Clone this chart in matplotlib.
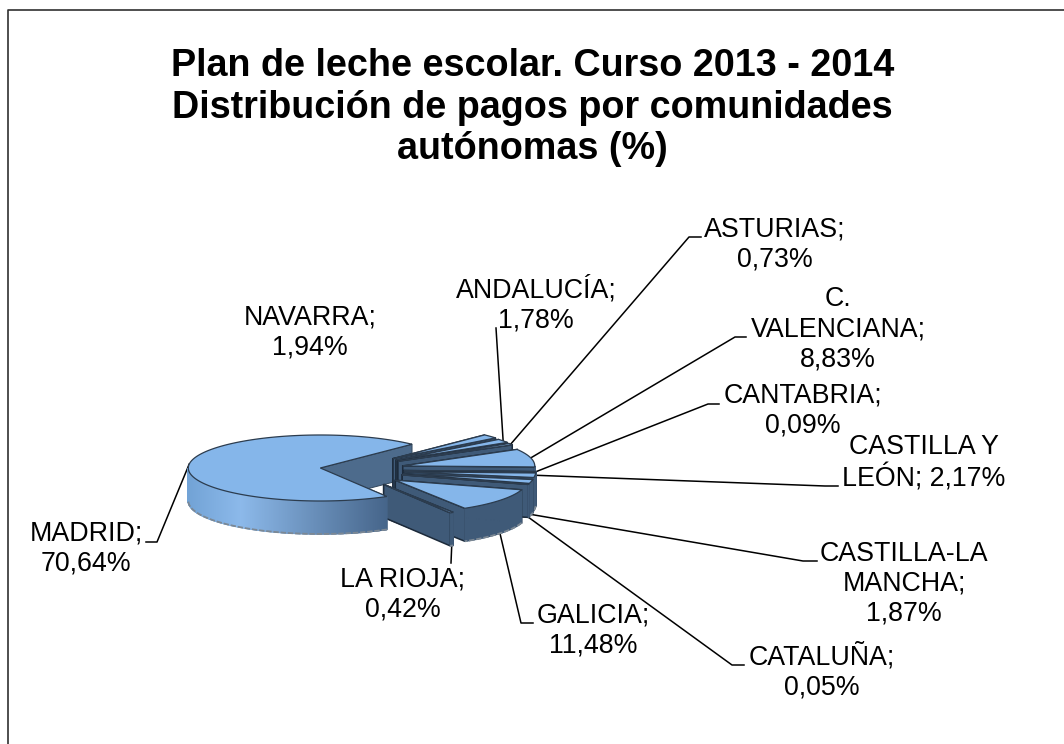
import numpy as np
import matplotlib
matplotlib.use('Agg')
import matplotlib.pyplot as plt
from matplotlib.colors import to_rgb
from matplotlib.patches import Polygon

plt.rcParams['font.family'] = ['Liberation Sans', 'DejaVu Sans']

# data, clockwise from the first slice
regions = ['ANDALUCÍA', 'ASTURIAS', 'C. VALENCIANA', 'CANTABRIA', 'CASTILLA Y LEÓN',
           'CASTILLA-LA MANCHA', 'CATALUÑA', 'GALICIA', 'LA RIOJA', 'MADRID', 'NAVARRA']
shares = [1.78, 0.73, 8.83, 0.09, 2.17, 1.87, 0.05, 11.48, 0.42, 70.64, 1.94]

# how the labels wrap in the chart
label_lines = [['ANDALUCÍA;', '{}'], ['ASTURIAS;', '{}'], ['C.', 'VALENCIANA;', '{}'],
               ['CANTABRIA;', '{}'], ['CASTILLA Y', 'LEÓN; {}'],
               ['CASTILLA-LA', 'MANCHA;', '{}'], ['CATALUÑA;', '{}'], ['GALICIA;', '{}'],
               ['LA RIOJA;', '{}'], ['MADRID;', '{}'], ['NAVARRA;', '{}']]

# layout in pixels
label_xy = [(536, 305), (775, 244), (838, 329), (803, 411), (924, 463),
            (904, 584), (822, 672), (593, 630), (403, 595), (86, 549), (310, 332)]
leader_tail = [[(496, 328)], [(689, 237), (701, 237)], [(735, 337), (746, 337)],
               [(708, 404), (719, 404)], [(825, 486), (838, 486)],
               [(803, 561), (817, 561)], [(732, 665), (744, 665)],
               [(521, 623), (533, 623)], [(451, 563)], [(157, 542), (146, 542)], None]

cx, cy = 362, 470
rx, ry = 132, 33
depth = 33
explode = 42
explode_yscale = 0.4
start_angle = 39.0

top_col = '#85b6ea'
wall_col = '#3f5a78'
edge_col = '#1c2a3a'


def project(t, r, ox, oy):
    return ox + r*rx*np.cos(t), oy - r*ry*np.sin(t)


def blend(a, b, f):
    a, b = np.array(to_rgb(a)), np.array(to_rgb(b))
    return tuple(a + (b-a)*f)


def madrid_shade(x):
    # light band on the left, going dark towards the cut
    if x < 240:
        return blend('#72a3d6', '#8cb9ea', (x-188)/52)
    return blend('#8cb9ea', '#46658a', min((x-240)/146, 1))


fig = plt.figure(figsize=(10.64, 7.44), dpi=100)
ax = fig.add_axes([0, 0, 1, 1])
ax.set_xlim(0, 1064)
ax.set_ylim(744, 0)
ax.axis('off')
# the frame is cut off by the image on the right and at the bottom
ax.plot([8, 8, 1064], [744, 10, 10], color='#303030', lw=1.2)

ax.text(532.5, 107.5, 'Plan de leche escolar. Curso 2013 - 2014\nDistribución de pagos por comunidades\nautónomas (%)',
        ha='center', va='center', fontsize=27.15, fontweight='bold', linespacing=1.18)

# slice angles follow the values
sweep = np.array(shares)/sum(shares)*2*np.pi
ends = np.radians(start_angle) - np.cumsum(sweep)
starts = ends + sweep
mids = (starts + ends)/2

# back slices first
order = np.argsort(-np.sin(mids))
for i in order:
    ox = cx + explode*np.cos(mids[i])
    oy = cy - explode*explode_yscale*np.sin(mids[i])
    is_big = regions[i] == 'MADRID'
    t = np.linspace(starts[i], ends[i], max(int(np.degrees(sweep[i]))*(4 if is_big else 1), 2)+1)
    px, py = project(t, 1, ox, oy)
    # madrid's rim sits in front of the right hand group, its cut face behind
    z_top = 4 if is_big else 3
    z_cut = 2.5 if is_big else 3

    # cut faces
    for e in (0, -1):
        face = [(ox, oy), (px[e], py[e]), (px[e], py[e]+depth), (ox, oy+depth)]
        ax.add_patch(Polygon(face, fc='#4d6b8c' if is_big else wall_col, ec='#33475c' if is_big else edge_col,
                             lw=0.7 if is_big else 1.1, zorder=z_cut))
    # outer rim, only the part facing us
    for k in range(len(t)-1):
        if np.sin((t[k]+t[k+1])/2) < 0:
            quad = [(px[k], py[k]), (px[k+1], py[k+1]), (px[k+1], py[k+1]+depth), (px[k], py[k]+depth)]
            col = madrid_shade((px[k]+px[k+1])/2) if is_big else wall_col
            ax.add_patch(Polygon(quad, fc=col, ec=col, lw=1.0, zorder=z_top))
    front = np.sin(t) <= 0
    if front.any():
        ax.plot(px[front], py[front]+depth, color='#7c8894', lw=1.3, ls=(0, (3, 1)), zorder=z_top)
    # top
    ax.add_patch(Polygon(np.column_stack([np.r_[ox, px], np.r_[oy, py]]), fc=top_col,
                         ec='#2c3c4e', lw=0.9, zorder=z_top))

    # leader line
    if leader_tail[i]:
        lx, ly = project(mids[i], 1, ox, oy)
        if np.sin(mids[i]) < -0.14:
            ly += depth
        xs = [lx] + [p[0] for p in leader_tail[i]]
        ys = [ly] + [p[1] for p in leader_tail[i]]
        ax.plot(xs, ys, color='black', lw=1.1, zorder=2)

    share_txt = '{:.2f}%'.format(shares[i]).replace('.', ',')
    text = '\n'.join(s.format(share_txt) for s in label_lines[i])
    ax.text(label_xy[i][0], label_xy[i][1], text, ha='center', va='center', fontsize=19.3,
            linespacing=1.2, zorder=5)

plt.savefig('out.png', dpi=100)
